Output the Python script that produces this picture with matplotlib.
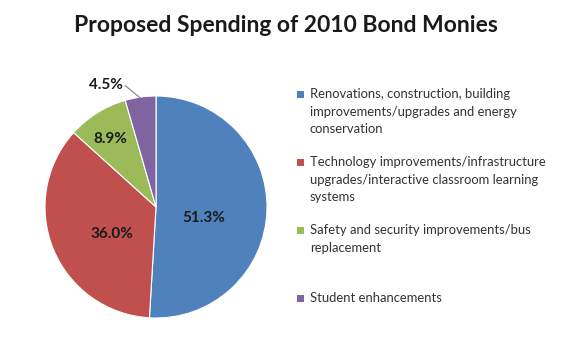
import numpy as np
import matplotlib.pyplot as plt
from matplotlib.patches import Rectangle

''' Data '''
categories = ["Renovations, construction, building\nimprovements/upgrades and energy\nconservation",
              "Technology improvements/infrastructure\nupgrades/interactive classroom learning\nsystems",
              "Safety and security improvements/bus\nreplacement",
              "Student enhancements"]
shares = [51.3, 36.0, 8.9, 4.5]
label_text = ["51.3%", "36.0%", "8.9%", "4.5%"]
colors = ["#4F81BD", "#C0504D", "#9BBB59", "#8064A2"]
label_dist = [0.44, 0.47, 0.74, 1.19]
label_shift = [-11, 9, 2, 14]   # angle tweak, deg

plt.rcParams['font.family'] = ['Lato', 'DejaVu Sans']

W, H = 572, 351
fig = plt.figure(figsize=(W / 100, H / 100), dpi=100)
fig.patch.set_facecolor("white")

fig.text(286 / W, 1 - 25 / H, "Proposed Spending of 2010 Bond Monies",
         ha="center", va="center", fontsize=16.5, fontweight="bold", color="#1a1a1a")

# pie axes, center (156,207), radius 111 px
cx, cy, r = 156, 207, 111
ax = fig.add_axes([(cx - r) / W, (H - cy - r) / H, 2 * r / W, 2 * r / H])
wedges, _ = ax.pie(shares, colors=colors, startangle=90, counterclock=False,
                   wedgeprops=dict(edgecolor="white", linewidth=0.8))
ax.set_xlim(-1, 1)
ax.set_ylim(-1, 1)
ax.set_aspect("equal")
ax.axis("off")

for i, w in enumerate(wedges):
    mid = np.deg2rad((w.theta1 + w.theta2) / 2 + label_shift[i])
    x, y = label_dist[i] * np.cos(mid), label_dist[i] * np.sin(mid)
    ax.text(x, y, label_text[i], ha="center", va="center", fontsize=11,
            fontweight="bold", color="#1a1a1a", clip_on=False)
    if label_dist[i] > 1:
        emid = np.deg2rad((w.theta1 + w.theta2) / 2)
        ax.plot([x + 0.17, 0.99 * np.cos(emid)], [y - 0.01, 0.99 * np.sin(emid)],
                color="#7f7f7f", linewidth=0.8, clip_on=False)

# legend, first lines evenly spaced
y0, step = 94, 68
for i, lab in enumerate(categories):
    yy = y0 + i * step
    fig.patches.append(Rectangle((297 / W, 1 - (yy + 3.5) / H), 7 / W, 7 / H,
                                 transform=fig.transFigure, facecolor=colors[i],
                                 edgecolor="none"))
    fig.text(310 / W, 1 - (yy - 6) / H, lab, ha="left", va="top", fontsize=9.4,
             color="#333333", linespacing=1.55)

fig.savefig("out.png", dpi=100, facecolor="white")
